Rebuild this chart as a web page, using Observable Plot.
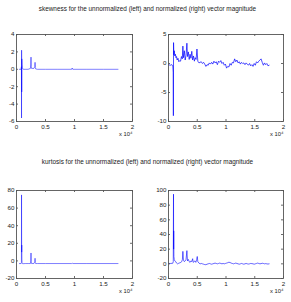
<!DOCTYPE html>
<html><head><meta charset="utf-8">
<script src="https://cdn.jsdelivr.net/npm/d3@7"></script>
<script src="https://cdn.jsdelivr.net/npm/@observablehq/plot@0.6"></script>
<style>
body{margin:0;background:#fff;}
#fig{position:relative;width:291px;height:302px;overflow:hidden;font-family:"Liberation Sans",Arial,sans-serif;}
.title{position:absolute;left:0;width:295px;text-align:center;font-size:6.4px;line-height:7px;color:#222;white-space:nowrap;}
.panel{position:absolute;}
.panel svg{overflow:visible;}
</style></head><body>
<div id="fig">
  <div class="title" style="top:5px">skewness for the unnormalized (left) and normalized (right) vector magnitude</div>
  <div class="title" style="top:158px">kurtosis for the unnormalized (left) and normalized (right) vector magnitude</div>
</div>
<script>
const xTicks = [0, 5000, 10000, 15000, 20000];
const xTickLabels = ["0", "0.5", "1", "1.5", "2"];
const xExponentLabel = "x 10\u2074";

const skewTicksLeft = [-6, -4, -2, 0, 2, 4];
const skewTicksRight = [-10, -5, 0, 5];
const kurtTicksLeft = [-20, 0, 20, 40, 60, 80];
const kurtTicksRight = [-20, 0, 20, 40, 60, 80, 100];

// [sample index, value]
const skewUnnormalized = [
  [500,0],[800,0],[850,0.3],[870,-5.6],[880,2.2],[900,-2.6],[920,1.2],[950,0.5],[1000,0.2],
  [1100,0.05],[1200,0],[1500,0],[2000,0],[2400,0.1],[2450,0.5],[2500,1.4],[2550,0.3],[2600,0.1],
  [3000,0.1],[3150,0.3],[3200,0.8],[3250,0.2],[3300,0.05],[3600,0],[5000,0],[7000,0],
  [9500,0],[9600,0.15],[9700,0],[12000,0],[15000,0],[17500,0]
];

const skewNormalized = [
  [0,-0.2],[300,-0.3],[600,-0.2],[750,-0.4],[820,-1.5],[850,-9],[880,3.6],[920,1.5],[1000,2.2],
  [1100,1.3],[1200,1.6],[1300,1.0],[1400,1.2],[1500,0.6],[1650,0.9],[1800,0.3],[1950,0.5],
  [2100,0.4],[2250,1.2],[2400,0.8],[2500,3.0],[2600,1.0],[2750,2.2],[2900,0.6],[3050,1.4],
  [3200,3.5],[3300,1.2],[3450,2.0],[3600,0.7],[3750,1.6],[3900,0.9],[4050,2.1],[4200,0.6],
  [4350,1.3],[4500,0.4],[4650,1.0],[4800,0.7],[4950,2.5],[5100,0.4],[5300,0.1],[5500,0.2],
  [5700,0.3],[5900,0],[6100,0.2],[6300,-0.1],[6500,-0.5],[6700,-0.2],[6900,-0.3],[7100,0.1],
  [7300,-0.1],[7500,0.2],[7700,-0.1],[7900,0.4],[8100,0.1],[8300,0.3],[8500,-0.2],[8700,0.4],
  [8900,0.2],[9100,0.5],[9300,0],[9500,0.2],[9700,-0.3],[9900,-0.1],[10100,-0.8],[10300,-0.5],
  [10500,-0.6],[10700,0],[10900,-0.3],[11100,0.2],[11300,0.1],[11500,0.8],[11700,0.3],[11900,0.6],
  [12100,0.1],[12300,0.3],[12500,-0.1],[12700,0.2],[12900,0],[13100,0.1],[13300,-0.2],[13500,0.1],
  [13700,-0.1],[13900,-0.3],[14100,0],[14300,-0.4],[14500,-0.2],[14700,-0.5],[14900,0],[15100,-0.3],
  [15300,0.3],[15500,0.1],[15700,0.4],[15900,0.6],[16100,0.8],[16300,0.2],[16500,-0.3],[16700,0.1],
  [16900,-0.2],[17100,0],[17300,-0.4],[17500,-0.3]
];

const kurtUnnormalized = [
  [500,-3],[800,-3],[850,-2],[870,75],[890,10],[910,18],[930,2],[960,-2],[1000,-3],[1100,-3.2],
  [1500,-3],[2000,-3],[2400,-3],[2450,0],[2500,9],[2550,-1],[2600,-3],[3000,-3],[3150,-1],
  [3200,3],[3250,-2],[3300,-3],[3600,-3],[5000,-3],[9500,-3],[9600,-2.5],[9700,-3],[12000,-3],[17500,-3]
];

const kurtNormalized = [
  [0,0.5],[400,0.5],[750,0.8],[830,3],[870,95],[890,20],[910,45],[940,10],[1000,6],[1100,4],
  [1250,3],[1400,1],[1550,0],[1700,0.5],[1850,1],[2000,1.5],[2150,2],[2300,3],[2420,6],[2500,17],
  [2600,5],[2750,3],[2900,4],[3050,6],[3200,18],[3300,4],[3450,6],[3600,3],[3750,2],[3900,4],
  [4050,3],[4200,7],[4300,2],[4450,3],[4600,4],[4750,2],[4900,6],[5000,10],[5100,3],[5300,1],
  [5500,0],[5700,0.5],[5900,0],[6100,-0.5],[6300,-1],[6500,-1.2],[6700,-0.5],[6900,0],[7100,0.5],
  [7300,0],[7500,-0.5],[7700,0],[7900,0.5],[8100,1],[8300,0.5],[8500,0],[8700,0.5],[8900,1],
  [9100,0.5],[9300,0],[9500,0.5],[9700,0],[9900,0.5],[10100,1],[10300,1.5],[10500,2.2],[10700,1.8],
  [10900,1],[11100,0.5],[11300,0],[11500,0.5],[11700,1],[11900,0.5],[12100,0],[12300,-0.5],
  [12500,0],[12700,0.5],[12900,0],[13100,-0.5],[13300,0],[13500,0.5],[13700,0],[13900,-0.3],
  [14100,0],[14300,0.5],[14500,0.3],[14700,0],[14900,-0.5],[15100,0],[15300,0.5],[15500,1],
  [15700,0.5],[15900,0],[16100,0.3],[16300,0.8],[16500,0.5],[16700,0],[16900,0.3],[17100,0],
  [17300,-0.3],[17500,0]
];

const fig = document.getElementById("fig");

function panel({data, yDomain, yTicks, left, top, width, height, strokeWidth}) {
  const mt = 6, mb = 20, ml = 16, mr = 8;
  const innerW = width - ml - mr, innerH = height - mt - mb;
  const tick = 2;
  const p = Plot.plot({
    width, height,
    marginTop: mt, marginBottom: mb, marginLeft: ml, marginRight: mr,
    style: {fontFamily: '"Liberation Sans", Arial, sans-serif', fontSize: "6px", color: "#222", background: "transparent", overflow: "visible"},
    x: {domain: [0, 20000], axis: null},
    y: {domain: yDomain, axis: null},
    marks: [
      Plot.lineY(data, {x: d => d[0], y: d => d[1], stroke: "#0000ff", strokeWidth}),
      Plot.ruleX(xTicks, {x: d => d, insetTop: innerH - tick, stroke: "#444", strokeWidth: 0.8}),
      Plot.ruleX(xTicks, {x: d => d, insetBottom: innerH - tick, stroke: "#444", strokeWidth: 0.8}),
      Plot.ruleY(yTicks, {y: d => d, insetRight: innerW - tick, stroke: "#444", strokeWidth: 0.8}),
      Plot.ruleY(yTicks, {y: d => d, insetLeft: innerW - tick, stroke: "#444", strokeWidth: 0.8}),
      Plot.frame({stroke: "#555", strokeWidth: 0.9}),
      Plot.axisX(xTicks, {tickSize: 0, tickPadding: 3, fontSize: 6.2, tickFormat: d => xTickLabels[xTicks.indexOf(d)]}),
      Plot.axisY(yTicks, {tickSize: 0, tickPadding: 2, fontSize: 6.2, tickFormat: d => String(d)}),
      Plot.text([xExponentLabel], {text: d => d, frameAnchor: "bottom-right", dy: 14, textAnchor: "end", fontSize: 5.8, fill: "#222"})
    ]
  });
  const div = document.createElement("div");
  div.className = "panel";
  div.style.left = left + "px";
  div.style.top = top + "px";
  div.appendChild(p);
  fig.appendChild(div);
}

panel({data: skewUnnormalized, yDomain: [-6, 4], yTicks: skewTicksLeft, left: 0, top: 28, width: 140, height: 113, strokeWidth: 0.5});
panel({data: skewNormalized, yDomain: [-10, 5], yTicks: skewTicksRight, left: 152, top: 28, width: 139, height: 113, strokeWidth: 0.7});
panel({data: kurtUnnormalized, yDomain: [-20, 80], yTicks: kurtTicksLeft, left: 0, top: 184, width: 140, height: 114, strokeWidth: 0.5});
panel({data: kurtNormalized, yDomain: [-20, 100], yTicks: kurtTicksRight, left: 152, top: 184, width: 139, height: 114, strokeWidth: 0.6});
</script>
</body></html>
